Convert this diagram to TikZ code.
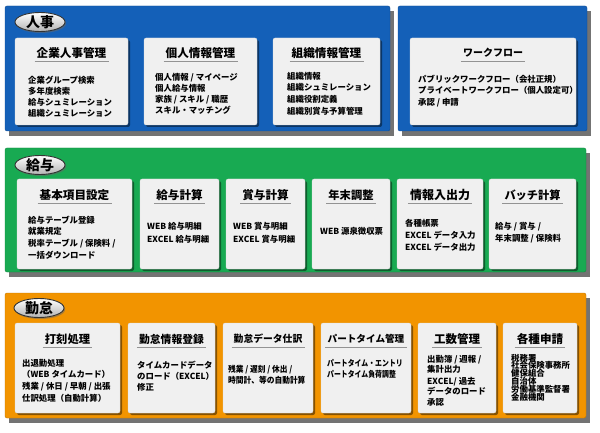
\documentclass[tikz,border=0pt]{standalone}
\usepackage{fontspec}
\setmainfont{Noto Sans CJK JP}
\usetikzlibrary{shapes.geometric,shadows,calc}
\definecolor{jblue}{RGB}{20,96,184}
\definecolor{jgreen}{RGB}{24,170,82}
\definecolor{jorange}{RGB}{242,148,0}
\definecolor{boxgray}{RGB}{240,240,240}
\tikzset{
  panelshadow/.style={fill=black!55},
  panelbox/.style={rounded corners=2pt},
  boxshadow/.style={fill=black!45},
  modbox/.style={draw=white!70!gray, line width=0.3pt, fill=boxgray, rounded corners=2pt, inner sep=0, outer sep=0},
  titletext/.style={inner sep=0, text=black},
  uline/.style={draw=gray!85, line width=1.6pt},
  bodytext/.style={inner sep=0, text=black},
  pill/.style={ellipse, minimum width=50pt, minimum height=19pt, inner sep=0,
    top color=white, bottom color=gray!60, draw=black!80, line width=0.9pt,
    font=\bfseries\fontsize{14}{14}\selectfont,
    drop shadow={shadow xshift=1.2pt, shadow yshift=-1.5pt, fill=black!60}},
}
\newcommand\panel[6]{% name, x1, y1, x2, y2, colour
  \fill[panelshadow] (#2+4,#3+5) rectangle (#4+4,#5+5);
  \draw[panelbox, fill=#6, draw=#6!80!black] (#2,#3) rectangle (#4,#5);
  \coordinate (#1) at (#2,#3);
}
\newcommand\modbox[8]{% name, x1, y1, x2, y2, title, titlesize, titleY
  \fill[boxshadow, rounded corners=2pt] (#2+2,#3+2) rectangle (#4+2,#5+2);
  \node[modbox, anchor=north west, minimum width={(#4-#2)*1pt}, minimum height={(#5-#3)*1pt}] (#1) at (#2,#3) {};
  \node[titletext, font=\bfseries\fontsize{#7}{#7}\selectfont] (#1-t) at ({(#2+#4)/2},#8) {#6};
  \draw[uline] ($(#1-t.west)+(-2,8.5)$) -- ($(#1-t.east)+(2,8.5)$);
}
% name, x, y, spacing, size, list ; optional first arg: horizontal scale
\newcommand\bodylines[7][1]{%
  \foreach \t [count=\i from 0] in {#7}{%
    \node[bodytext, xscale=#1, font=\bfseries\fontsize{#6}{#6}\selectfont, anchor=base west] (#2-\i) at (#3, {#4+#5*\i+0.36*#6}) {\t};}
}
\begin{document}
\begin{tikzpicture}[x=1pt,y=-1pt]
\useasboundingbox (0,0) rectangle (600,433);
\fill[white] (0,0) rectangle (600,433);

% ---------- 人事 ----------
\panel{pA}{5}{6}{390}{131}{jblue}
\panel{pB}{398}{6}{587}{131}{jblue}
\node[pill] (pillA) at (40,22) {人事};
\begin{scope}[boxshadow/.style={fill=jblue!55!black}]
\modbox{a1}{15}{38}{128}{125}{企業人事管理}{11.6}{53}
\bodylines{a1b}{28}{80}{11}{8.4}{企業グループ検索,多年度検索,給与シュミレーション,組織シュミレーション}
\modbox{a2}{144}{38}{257}{125}{個人情報管理}{11.6}{53}
\bodylines{a2b}{155}{77}{11.3}{8.4}{個人情報 / マイページ,個人給与情報,家族 / スキル / 職歴,スキル・マッチング}
\modbox{a3}{273}{38}{380}{125}{組織情報管理}{11.6}{53}
\bodylines{a3b}{287}{76}{11.8}{8.4}{組織情報,組織シュミレーション,組織役割定義,組織別賞与予算管理}
\modbox{a4}{410}{38}{576}{125}{ワークフロー}{10}{53}
\bodylines{a4b}{418}{79}{11.5}{8.4}{パブリックワークフロー（会社正規）,プライベートワークフロー（個人設定可）,承認 / 申請}
\end{scope}

% ---------- 給与 ----------
\panel{pC}{5}{148}{586}{272}{jgreen}
\node[pill] (pillB) at (40,165) {給与};
\begin{scope}[boxshadow/.style={fill=jgreen!55!black}]
\modbox{b1}{17}{179}{132}{269}{基本項目設定}{11.6}{195}
\bodylines{b1b}{28}{220}{11.8}{8.4}{給与テーブル登録,就業規定,税率テーブル / 保険料 /,一括ダウンロード}
\modbox{b2}{140}{179}{219}{269}{給与計算}{11.6}{195}
\bodylines{b2b}{147}{226}{13}{8.4}{WEB 給与明細,EXCEL 給与明細}
\modbox{b3}{226}{179}{305}{269}{賞与計算}{11.6}{195}
\bodylines{b3b}{233}{226}{13}{8.4}{WEB 賞与明細,EXCEL 賞与明細}
\modbox{b4}{312}{179}{390}{269}{年末調整}{11.3}{195}
\bodylines{b4b}{320}{231}{12}{8.4}{WEB 源泉徴収票}
\modbox{b5}{397}{179}{483}{269}{情報入出力}{12}{195}
\bodylines{b5b}{405}{223}{12}{8.4}{各種帳票,EXCEL データ入力,EXCEL データ出力}
\modbox{b6}{489}{179}{576}{269}{バッチ計算}{11.2}{195}
\bodylines{b6b}{495}{226}{12}{8.4}{給与 / 賞与 /,年末調整 / 保険料}
\end{scope}

% ---------- 勤怠 ----------
\panel{pD}{5}{293}{586}{418}{jorange}
\node[pill] (pillC) at (39,308) {勤怠};
\begin{scope}[boxshadow/.style={fill=jorange!55!black}]
\modbox{c1}{15}{323}{120}{413}{打刻処理}{11.3}{339}
\bodylines{c1b}{22}{363}{11.7}{8.4}{出退勤処理,（WEB タイムカード）,残業 / 休日 / 早朝 / 出張,仕訳処理（自動計算）}
\modbox{c2}{128}{323}{215}{413}{勤怠情報登録}{10.8}{339}
\bodylines{c2b}{137}{365}{11}{8.4}{タイムカードデータ,のロード（EXCEL）,修正}
\modbox{c3}{223}{323}{313}{413}{勤怠データ仕訳}{9.8}{339}
\bodylines[0.92]{c3b}{228}{369}{11}{8.4}{残業 / 遅刻 / 休出 /,時間計、等の自動計算}
\modbox{c4}{321}{323}{411}{413}{パートタイム管理}{9.6}{339}
\bodylines[0.82]{c4b}{327}{363}{11}{8.4}{パートタイム・エントリ,パートタイム負荷調整}
\modbox{c5}{418}{323}{496}{413}{工数管理}{11.5}{339}
\bodylines{c5b}{427}{359}{10}{8.4}{出勤簿 / 週報 /,集計出力}
\bodylines{c5c}{427}{381}{10}{8.4}{EXCEL/ 過去,データのロード}
\bodylines{c5d}{427}{402}{10}{8.4}{承認}
\modbox{c6}{503}{323}{577}{413}{各種申請}{11.6}{339}
\bodylines{c6b}{511}{358}{7.8}{8.4}{税務署,社会保険事務所,健保組合,自治体,労働基準監督署,金融機関}
\end{scope}
\end{tikzpicture}
\end{document}
